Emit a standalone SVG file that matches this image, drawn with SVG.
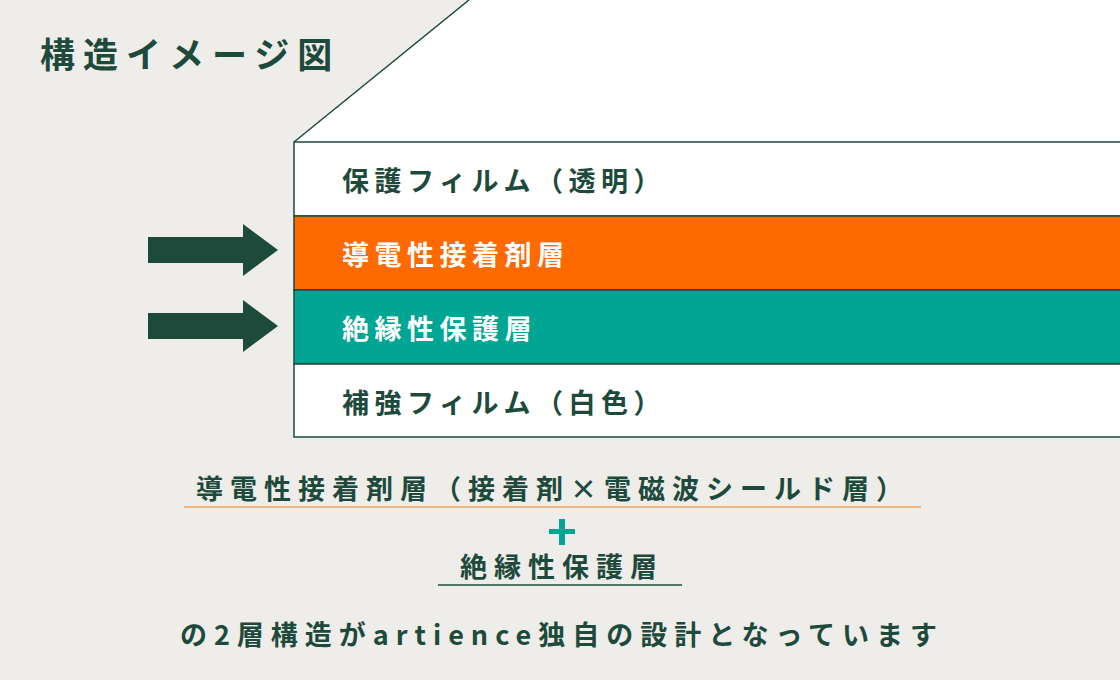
<svg xmlns="http://www.w3.org/2000/svg" width="1120" height="680" viewBox="0 0 1120 680">
<style>
text{font-family:"Noto Sans CJK JP","Noto Sans",sans-serif;font-weight:700;fill:#1E4A3C}
.lbl{font-size:27px;letter-spacing:5.5px}
.nt{font-size:27px;letter-spacing:7px}
.b{stroke:#1E4A3C;stroke-width:1.5}
</style>
<defs>
<g id="arr"><rect x="148" y="-13" width="96" height="26" fill="#1E4A3C"/><polygon points="243,-26 278,0 243,26" fill="#1E4A3C"/></g>
</defs>
<rect width="1120" height="680" fill="#EEEDEA"/>
<text x="40" y="68" font-size="35" style="letter-spacing:8px">構造イメージ図</text>
<g id="layers">
<polygon points="294,142 469,0 1120,0 1120,142" fill="#fff"/>
<line x1="294" y1="142" x2="469" y2="0" class="b"/>
<g id="l1"><rect x="294" y="142" width="830" height="74" fill="#fff" class="b"/><text x="342" y="191" class="lbl">保護フィルム（透明）</text></g>
<g id="l2"><rect x="294" y="216" width="830" height="74" fill="#FF6A00" class="b"/><text x="342" y="265" class="lbl" style="fill:#fff">導電性接着剤層</text></g>
<g id="l3"><rect x="294" y="290" width="830" height="74" fill="#00A693" class="b"/><text x="342" y="339" class="lbl" style="fill:#fff">絶縁性保護層</text></g>
<g id="l4"><rect x="294" y="364" width="830" height="73" fill="#fff" class="b"/><text x="342" y="413" class="lbl">補強フィルム（白色）</text></g>
</g>
<g id="connectors">
<use href="#arr" y="250"/>
<use href="#arr" y="326"/>
</g>
<g id="notes">
<text x="553" y="499" text-anchor="middle" class="nt">導電性接着剤層（接着剤×電磁波シールド層）</text>
<line x1="184" y1="507" x2="921" y2="507" stroke="#F2A65A" stroke-width="1.5"/>
<rect x="549" y="529" width="26" height="5" fill="#00A693"/><rect x="559" y="519" width="6" height="26" fill="#00A693"/>
<text x="562" y="577" text-anchor="middle" class="nt">絶縁性保護層</text>
<line x1="438" y1="585" x2="682" y2="585" stroke="#1E4A3C" stroke-width="1.5"/>
<text x="562" y="645" text-anchor="middle" class="nt">の2層構造がartience独自の設計となっています</text>
</g>
</svg>
